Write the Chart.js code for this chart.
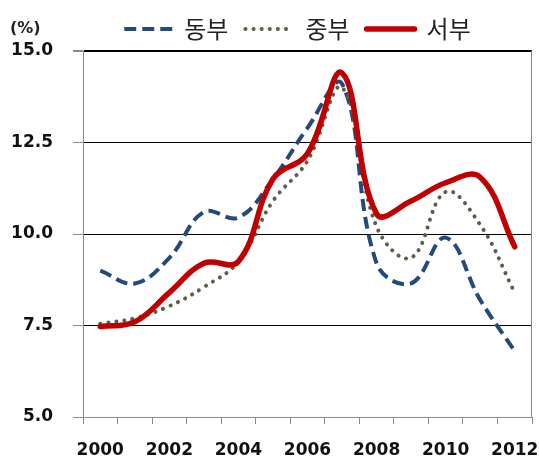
<!DOCTYPE html>
<html>
<head>
<meta charset="utf-8">
<script src="https://cdn.jsdelivr.net/npm/chart.js@4/dist/chart.umd.min.js"></script>
<style>
  html, body { margin: 0; padding: 0; background: #fff; }
  #wrap { width: 539px; height: 459px; position: relative; }
</style>
</head>
<body>
<div id="wrap"><canvas id="chart"></canvas></div>
<script>
// values
const years = ["2000", "2001", "2002", "2003", "2004", "2005", "2006",
  "2007", "2008", "2009", "2010", "2011", "2012"];
const east = [9.0, 8.65, 9.35, 10.6, 10.45, 11.5, 12.9, 14.1, 9.2, 8.65, 9.9, 8.2, 6.8];
const central = [7.55, 7.7, 8.03, 8.55, 9.25, 10.9, 12.0, 14.0, 10.2, 9.35, 11.15, 10.25, 8.4];
const west = [7.47, 7.6, 8.4, 9.2, 9.25, 11.5, 12.2, 14.4, 10.55, 10.9, 11.4, 11.55, 9.65];
const yTicks = [5.0, 7.5, 10.0, 12.5, 15.0];
const unitLabel = "(%)";

Chart.defaults.font.family = "'DejaVu Sans', sans-serif";
Chart.defaults.color = "#111";

const extras = {
  id: "extras",
  afterLayout(chart) {
    // legend sits a little left of the plot centre
    const lg = chart.legend;
    if (lg) {
      lg.left -= 10;
      lg.right -= 10;
    }
  },
  afterDraw(chart) {
    const { ctx, chartArea } = chart;
    ctx.save();
    // right frame line
    ctx.strokeStyle = "#8a8a8a";
    ctx.lineWidth = 1;
    ctx.beginPath();
    ctx.moveTo(chartArea.right - 0.5, chartArea.top);
    ctx.lineTo(chartArea.right - 0.5, chartArea.bottom);
    ctx.stroke();
    // unit label
    ctx.fillStyle = "#222";
    ctx.font = "bold 16px 'DejaVu Sans'";
    ctx.textBaseline = "middle";
    ctx.fillText(unitLabel, 10, 29);
    ctx.restore();
  },
};

const data = {
  labels: years,
  datasets: [
    {
      label: "동부",
      data: east,
      borderColor: "#25497a",
      backgroundColor: "#25497a",
      borderWidth: 4,
      borderDash: [12, 6],
      borderCapStyle: "butt",
      order: 2,
    },
    {
      label: "중부",
      data: central,
      borderColor: "#56624a",
      backgroundColor: "#56624a",
      borderWidth: 4,
      borderDash: [0.1, 8],
      borderCapStyle: "round",
      order: 1,
    },
    {
      label: "서부",
      data: west,
      borderColor: "#c00000",
      backgroundColor: "#c00000",
      borderWidth: 5.5,
      borderDash: [],
      borderCapStyle: "round",
      order: 0,
    },
  ],
};

const config = {
  type: "line",
  data: data,
  plugins: [extras],
  options: {
    responsive: false,
    animation: false,
    layout: { padding: { top: 0, right: 7, bottom: 0, left: 0 } },
    elements: {
      point: { radius: 0 },
      line: { tension: 0.4 },
    },
    plugins: {
      tooltip: { enabled: false },
      legend: {
        display: true,
        position: "top",
        fullSize: false,
        labels: {
          usePointStyle: true,
          pointStyle: "line",
          pointStyleWidth: 48,
          padding: 17,
          color: "#222",
          font: { family: "'Noto Sans CJK KR'", size: 24 },
          generateLabels: (chart) =>
            chart.data.datasets.map((ds, i) => ({
              text: ds.label,
              datasetIndex: i,
              hidden: false,
              fillStyle: ds.borderColor,
              strokeStyle: ds.borderColor,
              fontColor: "#222",
              lineWidth: ds.borderWidth,
              lineDash: ds.borderDash,
              lineCap: ds.borderCapStyle,
              pointStyle: "line",
            })),
        },
      },
    },
    scales: {
      x: {
        offset: true,
        afterFit: (s) => {
          s.height = 42;
          s.paddingLeft = 0;
          s.paddingRight = 0;
        },
        grid: {
          offset: true,
          drawOnChartArea: false,
          drawTicks: true,
          tickLength: 7,
          tickColor: "#8a8a8a",
        },
        border: { color: "#8a8a8a", width: 1 },
        ticks: {
          autoSkip: false,
          maxRotation: 0,
          padding: 16,
          color: "#111",
          font: { size: 17, weight: "bold" },
          callback: function (val, i) {
            return i % 2 === 0 ? this.getLabelForValue(val) : "";
          },
        },
      },
      y: {
        min: yTicks[0],
        max: yTicks[yTicks.length - 1],
        afterFit: (s) => { s.width = 83; },
        afterBuildTicks: (s) => { s.ticks = yTicks.map((v) => ({ value: v })); },
        grid: {
          color: (c) => (c.tick && c.tick.value === yTicks[0] ? "rgba(0,0,0,0)" : "#000"),
          lineWidth: (c) => (c.tick && c.tick.value === yTicks[yTicks.length - 1] ? 2 : 1),
          borderDash: [1, 2],
          tickLength: 10,
          tickColor: "#8a8a8a",
          tickBorderDash: [],
        },
        border: { color: "#8a8a8a", width: 1 },
        ticks: {
          padding: 20,
          color: "#111",
          font: { size: 17, weight: "bold" },
          callback: (v) => v.toFixed(1),
        },
      },
    },
  },
};

const canvas = document.getElementById("chart");
canvas.width = 539;
canvas.height = 459;
new Chart(canvas, config);
</script>
</body>
</html>
